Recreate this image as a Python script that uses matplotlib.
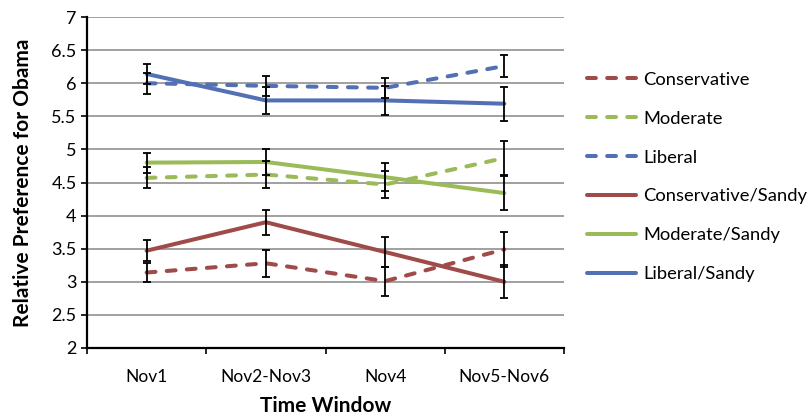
import matplotlib
matplotlib.use("Agg")
from matplotlib import pyplot as plt

plt.rcParams['font.family'] = ['Lato', 'DejaVu Sans']

windows = ["Nov1", "Nov2-Nov3", "Nov4", "Nov5-Nov6"]

conservative = [3.14, 3.28, 3.01, 3.49]
conservative_err = [0.15, 0.20, 0.22, 0.26]
moderate = [4.57, 4.62, 4.47, 4.87]
moderate_err = [0.16, 0.20, 0.20, 0.26]
liberal = [6.00, 5.96, 5.93, 6.26]
liberal_err = [0.16, 0.15, 0.15, 0.16]

cons_sandy = [3.47, 3.90, 3.45, 3.00]
cons_sandy_err = [0.16, 0.19, 0.22, 0.25]
mod_sandy = [4.80, 4.81, 4.58, 4.34]
mod_sandy_err = [0.15, 0.20, 0.21, 0.26]
lib_sandy = [6.14, 5.74, 5.74, 5.69]
lib_sandy_err = [0.15, 0.21, 0.22, 0.26]

red = "#9E4B49"
green = "#9BBB59"
blue = "#5470B5"

fig = plt.figure(figsize=(8.11, 4.16), dpi=100)
ax = fig.add_axes([87/811, 1-348/416, (564-87)/811, (348-17)/416])

x = list(range(len(windows)))

series = [
    ("Conservative", conservative, conservative_err, red, "--"),
    ("Moderate", moderate, moderate_err, green, "--"),
    ("Liberal", liberal, liberal_err, blue, "--"),
    ("Conservative/Sandy", cons_sandy, cons_sandy_err, red, "-"),
    ("Moderate/Sandy", mod_sandy, mod_sandy_err, green, "-"),
    ("Liberal/Sandy", lib_sandy, lib_sandy_err, blue, "-"),
]

for name, vals, err, col, ls in series:
    if ls == "--":
        ax.plot(x, vals, color=col, lw=2.9, dashes=(2.2, 2.8),
                dash_capstyle="round", label=name, zorder=3)
    else:
        ax.plot(x, vals, color=col, lw=2.9, solid_capstyle="round",
                label=name, zorder=3)

# error bars sit on top of the lines
for name, vals, err, col, ls in series:
    ax.errorbar(x, vals, yerr=err, fmt="none", ecolor="black",
                elinewidth=1.3, capsize=3.2, capthick=1.3, zorder=4)

ax.set_xlim(-0.5, 3.5)
ax.set_ylim(2, 7)
ax.set_yticks([2, 2.5, 3, 3.5, 4, 4.5, 5, 5.5, 6, 6.5, 7])
ax.set_yticklabels(["2", "2.5", "3", "3.5", "4", "4.5", "5", "5.5", "6", "6.5", "7"])
ax.set_xticks(x)
ax.set_xticklabels(windows)
ax.set_xticks([-0.5, 0.5, 1.5, 2.5, 3.5], minor=True)
ax.tick_params(axis="x", which="major", length=0, pad=15, labelsize=12.5)
ax.tick_params(axis="x", which="minor", length=4, width=1.2, direction="out")
ax.tick_params(axis="y", length=4.5, width=1.2, direction="out", pad=3, labelsize=13)

ax.grid(axis="y", color="#868686", lw=1.1)
ax.set_axisbelow(True)
for s in ["top", "right"]:
    ax.spines[s].set_visible(False)
ax.spines["left"].set_linewidth(1.6)
ax.spines["bottom"].set_linewidth(1.6)

ax.set_xlabel("Time Window", fontsize=15, fontweight="bold", labelpad=8)
ax.set_ylabel("Relative Preference for Obama", fontsize=15, fontweight="bold", labelpad=13)

fig.legend(loc="center left", bbox_to_anchor=(570/811, 1-177/416), frameon=False,
           fontsize=13.2, handlelength=2.7, labelspacing=1.25, handletextpad=0.4)

plt.savefig("out.png", dpi=100)
